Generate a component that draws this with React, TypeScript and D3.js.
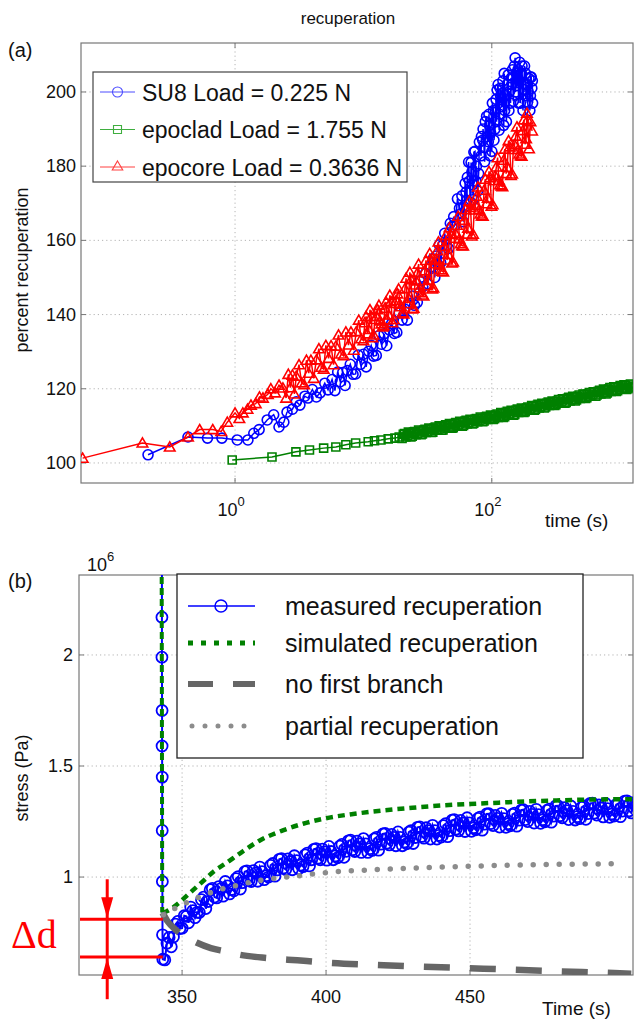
import { useEffect, useRef } from 'react'
import * as d3 from 'd3'

// ---- panel (a): percent recuperation vs time (log) ----
const su8 = [
  [0.21, 102.2], [0.43, 107], [0.61, 106.7], [0.79, 106.7], [1.04, 106.2], [1.26, 106.2], [1.4, 108],
  [1.54, 109], [1.78, 111.6], [2.0, 113], [2.2, 109.7], [2.4, 111], [2.54, 113.7], [2.8, 114.5],
  [3.0, 116.5], [3.2, 115.6], [3.5, 118], [3.7, 117.5], [4.0, 119.8], [4.3, 117.8], [4.6, 118.9],
  [5.0, 121.5], [5.3, 119.7], [5.7, 122.5],
  [6, 119.5], [6.3, 124.5], [6.6, 121.9], [6.9, 124.4], [7.2, 120.9], [7.5, 124.9], [7.9, 126.6],
  [8.3, 123.9], [8.7, 124], [9.1, 129.1], [9.5, 126.6], [10, 129.3], [10.5, 125.9], [11, 130.1],
  [11.5, 131.7], [12, 128.8], [12.6, 129], [13.2, 134.3], [13.8, 132], [14.5, 134.8], [15.2, 131.6],
  [15.9, 135.9], [16.6, 137.6], [17.4, 134.9], [18.2, 135.2], [19, 140.5], [20, 138.5], [21, 141.5],
  [22, 138.5], [23, 143], [24, 145], [25, 142.5], [26.3, 143.3], [27.6, 149.1], [29, 147.5],
  [30.4, 151.1], [31.8, 148.3], [33.3, 152.8], [34.8, 155],
  [36, 150], [37, 155.8], [38, 153.5], [39, 158.8], [40, 154], [41.5, 158.7], [43, 161.9],
  [44.5, 158.6], [46, 157.8], [47.5, 164.6], [49, 163.7], [50.5, 166.4], [52, 164.1], [54, 171.2],
  [56, 168.6], [58, 167.3], [58.5, 172], [60, 165], [61, 169], [62, 175.4], [63, 173], [64, 170.8],
  [64.5, 177], [66, 181.1], [67, 176], [68, 170.3], [69, 181], [70, 178.5], [71, 175], [72, 171],
  [72.5, 183.8], [74, 184], [75, 176], [76, 180], [77.5, 173.3], [79, 178], [80, 186.5], [82.5, 182.8],
  [83, 188], [85, 187], [85.5, 190], [87, 185], [88, 181.2], [89, 192], [91, 193.4], [92, 188],
  [94, 186.6], [95, 194], [96, 191], [97, 182.8], [98, 189], [100, 184], [101, 197], [103, 195],
  [104, 187], [106, 190], [107, 195], [108, 198], [109, 192], [110, 200.5], [112, 202], [114, 189.7],
  [115, 194], [116, 201], [117, 199], [118, 197.9], [120, 196], [122, 203], [124, 191], [125, 205],
  [126, 195], [128, 199], [130, 192], [132, 202], [134, 204.6], [136, 195], [138, 200.2], [140, 197],
  [142, 203.8], [144, 202], [145, 206], [147, 197.5], [150, 207], [152, 209.2], [153, 200], [155, 205],
  [157, 201.7], [160, 206], [162, 197], [163, 203], [165, 208], [167, 197], [170, 205], [172, 207],
  [175, 195], [177, 200.7], [180, 207], [183, 205], [185, 199], [187, 202], [189, 197], [192, 200],
  [195, 203.6], [198, 195], [200, 199], [201, 204], [203, 204], [205, 201], [207, 203], [208, 197],
]

const epoclad = [
  [0.95, 100.8], [1.94, 101.6], [2.98, 103], [3.8, 103.5], [4.9, 104], [6.1, 104.3], [7.3, 104.9],
  [8.7, 105.4], [10.9, 105.7], [12.2, 106], [13.7, 106.2], [15.6, 106.5], [17.6, 106.7], [19, 107],
  [20, 106.6], [20.9, 107.9], [21.9, 107.3], [22.9, 108], [24, 107.2], [25.1, 108.5], [26.3, 107.9],
  [27.5, 108.6], [28.8, 107.8], [30.2, 109.1], [31.6, 108.5], [33.1, 109.2], [34.7, 108.3], [36.3, 109.7],
  [38, 109], [39.8, 109.8], [41.7, 108.9], [43.7, 110.3], [45.7, 109.6], [47.9, 110.4], [50.1, 109.5],
  [52.5, 110.9], [55, 110.2], [57.5, 111], [60.3, 110.1], [63.1, 111.5], [66.1, 110.8], [69.2, 111.5],
  [72.4, 110.7], [75.9, 112], [79.4, 111.4], [83.2, 112.1], [87.1, 111.3], [91.2, 112.6], [95.5, 112],
  [100, 112.7], [105, 111.9], [110, 113.2], [115, 112.6], [120, 113.3], [126, 112.5], [132, 113.9],
  [138, 113.2], [145, 114], [151, 113.1], [158, 114.5], [166, 113.9], [174, 114.6], [182, 113.8],
  [191, 115.1], [200, 114.5], [209, 115.3], [219, 114.4], [229, 115.8], [240, 115.1], [251, 115.9],
  [263, 115.1], [275, 116.4], [288, 115.8], [302, 116.5], [316, 115.7], [331, 117.1], [347, 116.4],
  [363, 117.2], [380, 116.3], [398, 117.7], [417, 117.1], [437, 117.8], [457, 117], [479, 118.3],
  [501, 117.7], [525, 118.5], [550, 117.6], [575, 119], [603, 118.3], [631, 119.1], [661, 118.3],
  [692, 119.6], [724, 119], [759, 119.7], [794, 118.9], [832, 120.3], [871, 119.6], [912, 120.4],
  [955, 119.5], [1000, 120.9], [1047, 120.2], [1096, 120.9], [1148, 120], [1202, 121.3], [1250, 120.6],
]
const epocladMid = [
  [20.45, 107.7], [21.4, 107], [22.4, 108.3], [23.45, 107], [24.55, 108.3], [25.7, 107.6], [26.9, 108.9],
  [28.15, 107.6], [29.5, 108.8], [30.9, 108.2], [32.35, 109.4], [33.9, 108.2], [35.5, 109.4], [37.15, 108.8],
  [38.9, 110], [40.75, 108.8], [42.7, 110], [44.7, 109.4], [46.8, 110.6], [49, 109.4], [51.3, 110.6],
  [53.75, 109.9], [56.25, 111.2], [58.9, 109.9], [61.7, 111.2], [64.6, 110.5], [67.65, 111.8], [70.8, 110.5],
  [74.1, 111.8], [77.6, 111.1], [81.3, 112.4], [85.1, 111.1], [89.1, 112.3], [93.3, 111.7], [97.7, 112.9],
  [102.5, 111.7], [107.5, 112.9], [112.5, 112.3], [117.5, 113.6], [123, 112.3], [129, 113.6], [135, 112.9],
  [141.5, 114.2], [148, 112.9], [154.5, 114.2], [162, 113.6], [170, 114.8], [178, 113.6], [186.5, 114.8],
  [195.5, 114.2], [204.5, 115.5], [214, 114.2], [224, 115.5], [234.5, 114.8], [245.5, 116.1], [257, 114.8],
  [269, 116.1], [281.5, 115.5], [295, 116.7], [309, 115.5], [323.5, 116.7], [339, 116.1], [355, 117.3],
  [371.5, 116.1], [389, 117.4], [407.5, 116.7], [427, 118], [447, 116.7], [468, 118], [490, 117.4],
  [513, 118.6], [537.5, 117.4], [562.5, 118.6], [589, 118], [617, 119.2], [646, 118], [676.5, 119.3],
  [708, 118.6], [741.5, 119.9], [776.5, 118.6], [813, 119.9], [851.5, 119.3], [891.5, 120.5], [933.5, 119.3],
  [977.5, 120.5], [1023.5, 119.9], [1071.5, 121.1], [1122, 119.8], [1175, 121], [1226, 120.3],
]

const epocore = [
  [0.065, 101.3], [0.19, 105.4], [0.31, 104.3], [0.43, 107], [0.53, 109], [0.67, 109], [0.78, 108.5],
  [0.87, 111], [1.0, 113.5], [1.08, 112], [1.15, 113.5], [1.25, 114.5], [1.33, 115.6], [1.45, 116],
  [1.55, 117.8], [1.65, 117.5], [1.8, 118.5], [1.9, 120], [2.05, 118.9], [2.2, 121], [2.36, 120.2],
  [2.5, 117.5], [2.6, 123.9], [2.7, 120.3], [2.8, 123.7], [2.9, 118.6], [3.0, 123.4], [3.15, 126.5],
  [3.3, 121.6], [3.45, 121.1], [3.6, 127.7], [3.75, 124.2], [3.9, 127.7], [4.1, 122.8], [4.3, 127.8],
  [4.5, 130.8], [4.7, 125.8], [4.9, 125.3], [5.1, 131.7], [5.35, 128.2], [5.6, 131.6], [5.85, 126.5],
  [6.1, 131.5], [6.4, 134.5], [6.7, 129.4], [7.0, 128.9], [7.3, 135.3], [7.65, 131.8], [8.0, 135.3],
  [8.4, 130.4], [8.8, 135.4], [9.2, 138.5], [9.6, 133.5], [10, 133], [10.5, 139.5], [11, 136],
  [11.5, 139.5], [12, 134.5], [12.6, 139.5], [13.2, 142.5], [13.8, 137.5], [14.4, 137], [15, 143.4],
  [15.7, 139.9], [16.4, 143.5], [17.2, 138.7], [18, 143.8], [18.8, 146.9], [19.7, 142.1], [20.6, 140.2],
  [21.5, 149.8], [22.5, 144.4], [23.5, 149.4], [24.6, 141.7], [25.7, 149.1], [26.9, 153.6], [28.1, 145.9],
  [29.4, 145], [30.7, 154.6], [32.1, 149.3], [33.6, 154.7], [35.1, 147.2], [36.7, 154.9], [38.4, 159.6],
  [40.1, 152.1], [41.9, 151.5], [43.8, 161.3], [45.8, 156.2], [47.9, 161.6], [50, 154.2], [52.3, 161.8],
  [54.7, 166.5], [57.2, 159.1], [59.8, 158.5], [62.5, 168.3], [65.3, 163.3], [68.3, 168.9], [71.4, 161.7],
  [74.6, 169.5], [78, 174.4], [81.5, 167.1], [85.2, 166.5], [89, 176.5], [93, 171.4], [97.2, 176.9],
  [101.6, 169.6], [106.2, 177.4], [111, 182.3], [116, 175], [121, 174.5], [126.5, 184.6], [132, 179.7],
  [138, 185.2], [144, 177.9], [150.5, 185.8], [157, 190.6], [164, 183.3], [171, 182.7], [178, 192.5],
  [185, 187.4], [188, 194.3], [190, 192.5], [195, 184.7], [200, 192], [206, 189.5],
]
const epocoreMid = [
  [10.25, 137.8], [10.75, 134.8], [11.25, 141.3], [11.75, 133.8], [12.3, 138.7], [12.9, 141.3], [13.5, 138.3],
  [14.1, 136.7], [14.7, 141.7], [15.35, 138.6], [16.05, 145.2], [16.8, 137.8], [17.6, 143], [18.4, 145.6],
  [19.25, 142.8], [20.15, 140.5], [21.05, 147], [22, 143], [23, 151.4], [24.05, 141.5], [25.15, 148],
  [26.3, 151.2], [27.5, 147.2], [28.75, 145.3], [30.05, 151.8], [31.4, 147.8], [32.85, 156.5], [34.35, 146.9],
  [35.9, 153.7], [37.55, 157.2], [39.25, 153.4], [41, 151.7], [42.85, 158.4], [44.8, 154.7], [46.85, 163.4],
  [48.95, 153.9], [51.15, 160.6], [53.5, 164.1], [55.95, 160.4], [58.5, 158.6], [61.15, 165.4], [63.9, 161.7],
  [66.8, 170.6], [69.85, 161.2], [73, 168.2], [76.3, 171.9], [79.75, 168.3], [83.35, 166.6], [87.1, 173.5],
  [91, 169.9], [95.1, 178.6], [99.4, 169.2], [103.9, 176.1], [108.6, 179.8], [113.5, 176.2], [118.5, 174.7],
  [123.75, 181.6], [129.25, 178], [135, 186.9], [141, 177.5], [147.25, 184.5], [153.75, 188.1], [160.5, 184.5],
  [167.5, 182.8], [174.5, 189.6], [181.5, 185.9],
]

const yTicksA = [100, 120, 140, 160, 180, 200]
const xTicksA = [1, 100]
const xTickExpA = ['0', '2']
const legendA = ['SU8 Load = 0.225 N', 'epoclad Load = 1.755 N', 'epocore Load = 0.3636 N']

// ---- panel (b): stress (x 10^6 Pa) vs time ----
const measuredDrop = [
  [343, 2.55], [343, 2.17], [343, 1.99], [343.05, 1.75], [343.05, 1.59], [343.1, 1.45], [343.1, 1.21],
  [343.15, 0.98], [343.2, 0.74], [343.3, 0.63],
]
const measured = [
  [344, 0.627], [345.5, 0.728], [347, 0.73], [348.5, 0.8], [350, 0.77], [351.5, 0.823], [353, 0.865],
  [354.5, 0.817], [356, 0.84], [357.5, 0.91], [359, 0.89], [360.5, 0.949], [362, 0.906], [363.5, 0.948],
  [365, 0.98], [366.5, 0.924], [368, 0.938], [369.5, 1.002], [371, 0.975], [372.5, 1.028], [374, 0.98],
  [375.5, 1.018], [377, 1.045], [378.5, 0.988], [380, 1.0], [381.5, 1.061], [383, 1.032], [384.5, 1.083],
  [386, 1.034], [387.5, 1.07], [389, 1.096], [390.5, 1.037], [392, 1.047], [393.5, 1.108], [395, 1.078],
  [396.5, 1.128], [398, 1.078], [399.5, 1.113], [401, 1.138], [402.5, 1.078], [404, 1.087], [405.5, 1.147],
  [407, 1.116], [408.5, 1.166], [410, 1.115], [411.5, 1.149], [413, 1.173], [414.5, 1.111], [416, 1.12],
  [417.5, 1.179], [419, 1.148], [420.5, 1.196], [422, 1.145], [423.5, 1.179], [425, 1.203], [426.5, 1.141],
  [428, 1.15], [429.5, 1.209], [431, 1.178], [432.5, 1.226], [434, 1.175], [435.5, 1.209], [437, 1.233],
  [438.5, 1.171], [440, 1.18], [441.5, 1.24], [443, 1.209], [444.5, 1.259], [446, 1.208], [447.5, 1.243],
  [449, 1.267], [450.5, 1.206], [452, 1.213], [453.5, 1.27], [455, 1.238], [456.5, 1.285], [458, 1.232],
  [459.5, 1.264], [461, 1.287], [462.5, 1.224], [464, 1.231], [465.5, 1.288], [467, 1.256], [468.5, 1.303],
  [470, 1.25], [471.5, 1.282], [473, 1.305], [474.5, 1.242], [476, 1.249], [477.5, 1.306], [479, 1.274],
  [480.5, 1.321], [482, 1.267], [483.5, 1.299], [485, 1.32], [486.5, 1.257], [488, 1.263], [489.5, 1.32],
  [491, 1.286], [492.5, 1.333], [494, 1.279], [495.5, 1.311], [497, 1.332], [498.5, 1.269], [500, 1.275],
  [501.5, 1.331], [503, 1.297], [504.5, 1.343], [506, 1.289], [507.5, 1.32],
]
const measuredMid = [
  [344.75, 0.702], [346.25, 0.686], [347.75, 0.788], [349.25, 0.768], [350.75, 0.826], [352.25, 0.794],
  [353.75, 0.849], [355.25, 0.841], [356.75, 0.898], [358.25, 0.858], [359.75, 0.943], [361.25, 0.91],
  [362.75, 0.957], [364.25, 0.914], [365.75, 0.96], [367.25, 0.944], [368.75, 0.993], [370.25, 0.946],
  [371.75, 1.024], [373.25, 0.986], [374.75, 1.029], [376.25, 0.981], [377.75, 1.024], [379.25, 1.006],
  [380.75, 1.053], [382.25, 1.004], [383.75, 1.08], [385.25, 1.041], [386.75, 1.082], [388.25, 1.033],
  [389.75, 1.074], [391.25, 1.054], [392.75, 1.1], [394.25, 1.05], [395.75, 1.125], [397.25, 1.085],
  [398.75, 1.126], [400.25, 1.076], [401.75, 1.115], [403.25, 1.095], [404.75, 1.139], [406.25, 1.089],
  [407.75, 1.163], [409.25, 1.123], [410.75, 1.162], [412.25, 1.111], [413.75, 1.149], [415.25, 1.128],
  [416.75, 1.172], [418.25, 1.121], [419.75, 1.194], [421.25, 1.153], [422.75, 1.192], [424.25, 1.141],
  [425.75, 1.179], [427.25, 1.158], [428.75, 1.202], [430.25, 1.151], [431.75, 1.224], [433.25, 1.183],
  [434.75, 1.222], [436.25, 1.171], [437.75, 1.209], [439.25, 1.188], [440.75, 1.232], [442.25, 1.182],
  [443.75, 1.256], [445.25, 1.216], [446.75, 1.255], [448.25, 1.205], [449.75, 1.244], [451.25, 1.222],
  [452.75, 1.264], [454.25, 1.211], [455.75, 1.284], [457.25, 1.241], [458.75, 1.278], [460.25, 1.225],
  [461.75, 1.263], [463.25, 1.24], [464.75, 1.282], [466.25, 1.229], [467.75, 1.301], [469.25, 1.259],
  [470.75, 1.296], [472.25, 1.243], [473.75, 1.281], [475.25, 1.258], [476.75, 1.3], [478.25, 1.247],
  [479.75, 1.32], [481.25, 1.276], [482.75, 1.313], [484.25, 1.259], [485.75, 1.296], [487.25, 1.272],
  [488.75, 1.314], [490.25, 1.26], [491.75, 1.332], [493.25, 1.288], [494.75, 1.325], [496.25, 1.271],
  [497.75, 1.308], [499.25, 1.284], [500.75, 1.326], [502.25, 1.272], [503.75, 1.342], [505.25, 1.298],
  [506.75, 1.334],
]
const simulated = [
  [342.9, 2.5], [343.1, 0.84], [344.5, 0.845], [346.5, 0.86], [349, 0.885], [352, 0.92], [355, 0.955],
  [358, 0.99], [361, 1.025], [365, 1.06], [371, 1.115], [377, 1.165], [385, 1.21], [392, 1.24],
  [400, 1.265], [410, 1.285], [420, 1.30], [430, 1.312], [440, 1.322], [460, 1.335], [480, 1.345],
  [500, 1.35], [507, 1.35],
]
const noFirstBranch = [
  [343.2, 0.84], [345, 0.80], [348, 0.76], [350, 0.74], [355, 0.705], [360, 0.68], [365, 0.665],
  [370, 0.65], [380, 0.635], [390, 0.625], [400, 0.615], [420, 0.603], [440, 0.594], [460, 0.585],
  [480, 0.576], [500, 0.568], [506, 0.565],
]
const partial = [
  [343.5, 0.83], [345, 0.84], [347, 0.855], [350, 0.875], [355, 0.905], [360, 0.93], [365, 0.95],
  [370, 0.965], [375, 0.98], [380, 0.99], [390, 1.005], [400, 1.02], [420, 1.035], [440, 1.045],
  [460, 1.052], [480, 1.057], [502, 1.06],
]
const deltaD = [0.64, 0.81]
const deltaArrow = { t: 324, top: 0.99, bottom: 0.45 }

const yTicksB = [1, 1.5, 2]
const xTicksB = [350, 400, 450]
const legendB = ['measured recuperation', 'simulated recuperation', 'no first branch', 'partial recuperation']

const FONT = 'Liberation Sans, Arial, Helvetica, sans-serif'

export default function App() {
  const svgRef = useRef<SVGSVGElement>(null)

  useEffect(() => {
    if (!svgRef.current) return
    const svg = d3.select(svgRef.current)
    svg.selectAll('*').remove()
    svg.attr('font-family', FONT)

    // ================= panel (a) =================
    const xa = d3.scaleLog().domain([Math.pow(10, -1.2), Math.pow(10, 3.1)]).range([81, 633])
    const ya = d3.scaleLinear().domain([94.6, 213.2]).range([483, 43])
    const [ax0, ax1] = xa.range()
    const [ay1, ay0] = ya.range()

    const ga = svg.append('g')
    yTicksA.forEach(v => {
      ga.append('line').attr('x1', ax0).attr('x2', ax1).attr('y1', ya(v)).attr('y2', ya(v))
        .attr('stroke', '#b4b4b4').attr('stroke-dasharray', '1.2 3')
      ga.append('line').attr('x1', ax0).attr('x2', ax0 + 5).attr('y1', ya(v)).attr('y2', ya(v)).attr('stroke', '#777')
      ga.append('line').attr('x1', ax1 - 5).attr('x2', ax1).attr('y1', ya(v)).attr('y2', ya(v)).attr('stroke', '#777')
      ga.append('text').attr('x', ax0 - 5).attr('y', ya(v) + 6).attr('text-anchor', 'end')
        .attr('font-size', 18).attr('fill', '#111').text(v)
    })
    xTicksA.forEach((v, i) => {
      ga.append('line').attr('x1', xa(v)).attr('x2', xa(v)).attr('y1', ay0).attr('y2', ay1)
        .attr('stroke', '#b4b4b4').attr('stroke-dasharray', '1.2 3')
      ga.append('line').attr('x1', xa(v)).attr('x2', xa(v)).attr('y1', ay1).attr('y2', ay1 - 5).attr('stroke', '#777')
      ga.append('line').attr('x1', xa(v)).attr('x2', xa(v)).attr('y1', ay0).attr('y2', ay0 + 5).attr('stroke', '#777')
      const t = ga.append('text').attr('x', xa(v) - 4).attr('y', ay1 + 33).attr('text-anchor', 'middle')
        .attr('font-size', 18).attr('fill', '#111')
      t.append('tspan').text('10')
      t.append('tspan').attr('dy', -10).attr('font-size', 13).text(xTickExpA[i])
    })
    ga.append('rect').attr('x', ax0).attr('y', ay0).attr('width', ax1 - ax0).attr('height', ay1 - ay0)
      .attr('fill', 'none').attr('stroke', '#777').attr('stroke-width', 1.2)

    const defs = svg.append('defs')
    defs.append('clipPath').attr('id', 'clipA')
      .append('rect').attr('x', ax0).attr('y', ay0).attr('width', ax1 - ax0).attr('height', ay1 - ay0)

    const da = ga.append('g').attr('clip-path', 'url(#clipA)')
    const lineA = d3.line<number[]>().x(d => xa(d[0])).y(d => ya(d[1]))
    const tri = d3.symbol().type(d3.symbolTriangle).size(48)()
    const sq = d3.symbol().type(d3.symbolSquare).size(64)()

    const drawSeries = (data: number[][], color: string, kind: string) => {
      da.append('path').attr('d', lineA(data)).attr('fill', 'none').attr('stroke', color).attr('stroke-width', 1.5)
      data.forEach(d => {
        if (kind === 'o') {
          da.append('circle').attr('cx', xa(d[0])).attr('cy', ya(d[1])).attr('r', 5)
            .attr('fill', 'none').attr('stroke', color).attr('stroke-width', 1.6)
        } else {
          da.append('path').attr('d', kind === '^' ? tri : sq)
            .attr('transform', `translate(${xa(d[0])},${ya(d[1]) + (kind === '^' ? 1 : 0)})`)
            .attr('fill', 'none').attr('stroke', color).attr('stroke-width', 1.6)
        }
      })
    }
    drawSeries(su8, '#0000ff', 'o')
    drawSeries(d3.sort(epoclad.concat(epocladMid), d => d[0]), '#008000', 's')
    drawSeries(d3.sort(epocore.concat(epocoreMid), d => d[0]), '#ff0000', '^')

    // legend (a)
    const la = svg.append('g')
    la.append('rect').attr('x', 93).attr('y', 72).attr('width', 314).attr('height', 110)
      .attr('fill', '#fff').attr('stroke', '#444').attr('stroke-width', 1.2)
    const colorsA = ['#4d4dff', '#3fae3f', '#ff4040']
    const kindsA = ['o', 's', '^']
    legendA.forEach((label, i) => {
      const cy = 92 + i * 37.5
      la.append('line').attr('x1', 100).attr('x2', 135).attr('y1', cy).attr('y2', cy)
        .attr('stroke', colorsA[i]).attr('stroke-width', 1)
      if (kindsA[i] === 'o') {
        la.append('circle').attr('cx', 117.5).attr('cy', cy).attr('r', 5).attr('fill', 'none')
          .attr('stroke', colorsA[i]).attr('stroke-width', 1.1)
      } else {
        la.append('path').attr('d', kindsA[i] === '^' ? tri : sq).attr('transform', `translate(117.5,${cy})`)
          .attr('fill', 'none').attr('stroke', colorsA[i]).attr('stroke-width', 1.1)
      }
      la.append('text').attr('x', 142).attr('y', cy + 8.5).attr('font-size', 23).attr('fill', '#111').text(label)
    })

    svg.append('text').attr('x', 348).attr('y', 24).attr('text-anchor', 'middle').attr('font-size', 17)
      .attr('fill', '#111').text('recuperation')
    svg.append('text').attr('x', 8).attr('y', 57).attr('font-size', 20).attr('fill', '#111').text('(a)')
    svg.append('text').attr('transform', 'translate(28,270) rotate(-90)').attr('text-anchor', 'middle')
      .attr('font-size', 18).attr('fill', '#111').text('percent recuperation')
    svg.append('text').attr('x', 545).attr('y', 527).attr('font-size', 19).attr('fill', '#111').text('time (s)')

    // ================= panel (b) =================
    const xb = d3.scaleLinear().domain([314.2, 506.6]).range([79, 633])
    const yb = d3.scaleLinear().domain([0.559, 2.36]).range([975, 575])
    const [bx0, bx1] = xb.range()
    const [by1, by0] = yb.range()

    defs.append('clipPath').attr('id', 'clipB')
      .append('rect').attr('x', bx0).attr('y', by0).attr('width', bx1 - bx0).attr('height', by1 - by0)

    const gb = svg.append('g')
    yTicksB.forEach(v => {
      gb.append('line').attr('x1', bx0).attr('x2', bx1).attr('y1', yb(v)).attr('y2', yb(v))
        .attr('stroke', '#b4b4b4').attr('stroke-dasharray', '1.2 3')
      gb.append('line').attr('x1', bx0).attr('x2', bx0 + 5).attr('y1', yb(v)).attr('y2', yb(v)).attr('stroke', '#777')
      gb.append('line').attr('x1', bx1 - 5).attr('x2', bx1).attr('y1', yb(v)).attr('y2', yb(v)).attr('stroke', '#777')
      gb.append('text').attr('x', bx0 - 6).attr('y', yb(v) + 6).attr('text-anchor', 'end')
        .attr('font-size', 18).attr('fill', '#111').text(v)
    })
    xTicksB.forEach(v => {
      gb.append('line').attr('x1', xb(v)).attr('x2', xb(v)).attr('y1', by0).attr('y2', by1)
        .attr('stroke', '#b4b4b4').attr('stroke-dasharray', '1.2 3')
      gb.append('line').attr('x1', xb(v)).attr('x2', xb(v)).attr('y1', by1).attr('y2', by1 - 5).attr('stroke', '#777')
      gb.append('line').attr('x1', xb(v)).attr('x2', xb(v)).attr('y1', by0).attr('y2', by0 + 5).attr('stroke', '#777')
      gb.append('text').attr('x', xb(v)).attr('y', by1 + 28).attr('text-anchor', 'middle')
        .attr('font-size', 18).attr('fill', '#111').text(v)
    })
    gb.append('rect').attr('x', bx0).attr('y', by0).attr('width', bx1 - bx0).attr('height', by1 - by0)
      .attr('fill', 'none').attr('stroke', '#777').attr('stroke-width', 1.2)

    const db = gb.append('g').attr('clip-path', 'url(#clipB)')
    const lineB = d3.line<number[]>().x(d => xb(d[0])).y(d => yb(d[1]))
    const lineBc = d3.line<number[]>().x(d => xb(d[0])).y(d => yb(d[1])).curve(d3.curveMonotoneX)

    const allMeasured = measuredDrop.concat(d3.sort(measured.concat(measuredMid), d => d[0]))
    db.append('path').attr('d', lineB(allMeasured)).attr('fill', 'none').attr('stroke', '#0000ff').attr('stroke-width', 2)
    allMeasured.forEach(d => {
      db.append('circle').attr('cx', xb(d[0])).attr('cy', yb(d[1])).attr('r', 5.5)
        .attr('fill', 'none').attr('stroke', '#0000ff').attr('stroke-width', 1.8)
    })
    db.append('path').attr('d', lineB(simulated.slice(0, 2))).attr('fill', 'none').attr('stroke', '#008000')
      .attr('stroke-width', 4).attr('stroke-dasharray', '7 4')
    db.append('path').attr('d', lineBc(simulated.slice(1))).attr('fill', 'none').attr('stroke', '#008000')
      .attr('stroke-width', 4.5).attr('stroke-dasharray', '7 5')
    db.append('path').attr('d', lineBc(noFirstBranch)).attr('fill', 'none').attr('stroke', '#666')
      .attr('stroke-width', 6.5).attr('stroke-dasharray', '26 20')
    db.append('path').attr('d', lineBc(partial)).attr('fill', 'none').attr('stroke', '#8c8c8c')
      .attr('stroke-width', 5.5).attr('stroke-dasharray', '0 13').attr('stroke-linecap', 'round')

    // legend (b)
    const lb = svg.append('g')
    lb.append('rect').attr('x', 177).attr('y', 574).attr('width', 406).attr('height', 184)
      .attr('fill', '#fff').attr('stroke', '#222').attr('stroke-width', 1.3)
    const rowsB = [606, 643, 684, 726]
    const styleB = [
      { c: '#0000ff', w: 1.5, dash: null, cap: 'butt' },
      { c: '#008000', w: 5, dash: '5 8', cap: 'butt' },
      { c: '#666', w: 6, dash: '25 20', cap: 'butt' },
      { c: '#8c8c8c', w: 5, dash: '0 13', cap: 'round' },
    ]
    legendB.forEach((label, i) => {
      const cy = rowsB[i]
      const s = styleB[i]
      const ln = lb.append('line').attr('x1', i === 3 ? 192 : 188).attr('x2', 255).attr('y1', cy).attr('y2', cy)
        .attr('stroke', s.c).attr('stroke-width', s.w).attr('stroke-linecap', s.cap)
      if (s.dash) ln.attr('stroke-dasharray', s.dash)
      if (i === 0) {
        lb.append('circle').attr('cx', 221).attr('cy', cy).attr('r', 6).attr('fill', 'none')
          .attr('stroke', '#0000ff').attr('stroke-width', 1.5)
      }
      lb.append('text').attr('x', 285).attr('y', cy + 9).attr('font-size', 25).attr('fill', '#111').text(label)
    })

    // labels (b)
    svg.append('text').attr('x', 8).attr('y', 588).attr('font-size', 20).attr('fill', '#111').text('(b)')
    const e6 = svg.append('text').attr('x', 87).attr('y', 571).attr('font-size', 18).attr('fill', '#111')
    e6.append('tspan').text('10')
    e6.append('tspan').attr('dy', -10).attr('font-size', 13).text('6')
    svg.append('text').attr('transform', 'translate(28,778) rotate(-90)').attr('text-anchor', 'middle')
      .attr('font-size', 18).attr('fill', '#111').text('stress (Pa)')
    svg.append('text').attr('x', 542).attr('y', 1015).attr('font-size', 19).attr('fill', '#111').text('Time (s)')

    // delta-d annotation
    const ann = svg.append('g').attr('stroke', '#ff0000').attr('fill', '#ff0000')
    const tEnd = measuredDrop[measuredDrop.length - 1][0]
    deltaD.forEach(v => {
      ann.append('line').attr('x1', bx0 + 1).attr('x2', xb(tEnd)).attr('y1', yb(v)).attr('y2', yb(v)).attr('stroke-width', 3)
    })
    const axx = xb(deltaArrow.t)
    ann.append('line').attr('x1', axx).attr('x2', axx).attr('y1', yb(deltaArrow.top)).attr('y2', yb(deltaArrow.bottom))
      .attr('stroke-width', 3)
    const yHi = yb(deltaD[1])
    const yLo = yb(deltaD[0])
    ann.append('path').attr('d', `M${axx - 6},${yHi - 22}L${axx + 6},${yHi - 22}L${axx},${yHi - 1}Z`).attr('stroke', 'none')
    ann.append('path').attr('d', `M${axx - 6},${yLo + 22}L${axx + 6},${yLo + 22}L${axx},${yLo + 1}Z`).attr('stroke', 'none')
    svg.append('text').attr('x', 11).attr('y', 948).attr('font-family', 'Liberation Serif, Times New Roman, serif')
      .attr('font-size', 40).attr('fill', '#ff0000').text('Δd')
  }, [])

  return (
    <svg ref={svgRef} width={635} height={1021}
      style={{ position: 'absolute', left: 0, top: 0, background: '#fff' }} />
  )
}
